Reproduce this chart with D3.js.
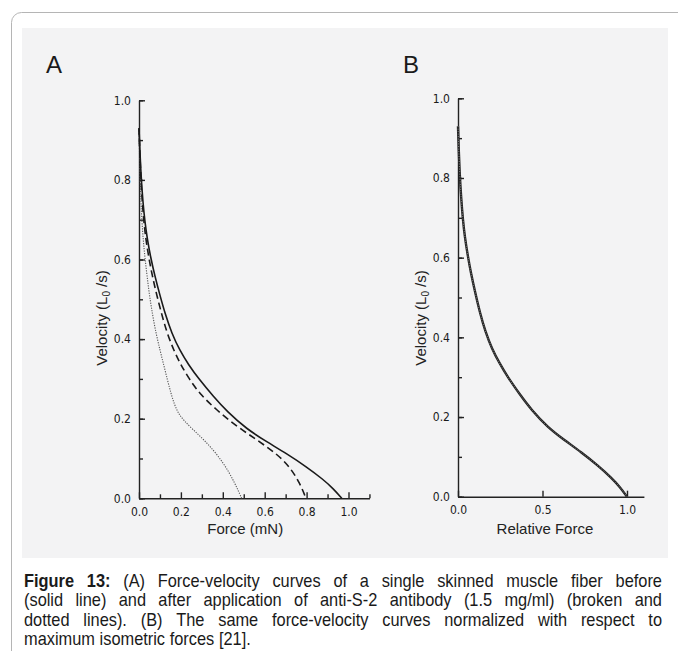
<!DOCTYPE html>
<html>
<head>
<meta charset="utf-8">
<script src="https://cdn.jsdelivr.net/npm/d3@7"></script>
<style>
  body { margin: 0; background: #fff; }
  svg { display: block; }
  .tick text { font-family: "DejaVu Sans Condensed", "Liberation Sans", sans-serif; font-size: 12px; fill: #1a1a1a; }
  .domain, .tick line { stroke: #222; stroke-width: 1.4; }
</style>
</head>
<body>
<div id="chart"></div>
<script>
// force (mN) / velocity (L0/s)
const solidA = [[0,0.93],[0.004,0.875],[0.010,0.81],[0.018,0.748],[0.028,0.695],[0.040,0.65],[0.055,0.607],[0.075,0.56],[0.100,0.51],[0.125,0.463],[0.156,0.415],[0.196,0.370],[0.235,0.337],[0.285,0.300],[0.355,0.256],[0.42,0.218],[0.514,0.174],[0.61,0.142],[0.705,0.112],[0.80,0.079],[0.88,0.047],[0.928,0.024],[0.968,0]];
const dashedA = [[0,0.93],[0.0035,0.875],[0.0085,0.81],[0.015,0.748],[0.023,0.695],[0.033,0.65],[0.046,0.607],[0.063,0.56],[0.085,0.51],[0.108,0.463],[0.134,0.415],[0.166,0.372],[0.198,0.337],[0.237,0.302],[0.29,0.262],[0.37,0.222],[0.466,0.181],[0.562,0.147],[0.657,0.112],[0.72,0.079],[0.768,0.038],[0.797,0]];
const dottedA = [[0,0.93],[0.002,0.875],[0.005,0.81],[0.009,0.748],[0.014,0.695],[0.02,0.65],[0.028,0.607],[0.038,0.56],[0.05,0.51],[0.064,0.463],[0.081,0.415],[0.1,0.373],[0.118,0.335],[0.136,0.297],[0.152,0.265],[0.168,0.237],[0.188,0.213],[0.215,0.195],[0.259,0.172],[0.31,0.147],[0.36,0.118],[0.40,0.09],[0.43,0.065],[0.455,0.04],[0.473,0.02],[0.49,0]];
// relative force / velocity, panel B (the three curves overlap)
const curveB = [[0,0.93],[0.004,0.875],[0.010,0.81],[0.019,0.748],[0.029,0.695],[0.041,0.65],[0.057,0.607],[0.077,0.56],[0.103,0.51],[0.129,0.463],[0.161,0.415],[0.202,0.37],[0.243,0.337],[0.294,0.30],[0.367,0.256],[0.434,0.218],[0.531,0.174],[0.63,0.142],[0.728,0.112],[0.826,0.079],[0.909,0.047],[0.959,0.024],[1.0,0]];

const forceTicks = [0, 0.2, 0.4, 0.6, 0.8, 1.0];
const relForceTicks = [0, 0.5, 1.0];
const velocityTicks = [0, 0.2, 0.4, 0.6, 0.8, 1.0];
const minorTicks = [0, 0.1, 0.2, 0.3, 0.4, 0.5, 0.6, 0.7, 0.8, 0.9, 1.0];
const minorTicksX = [0.1, 0.3, 0.5, 0.7, 0.9, 1.1];

const captionLines = [
  [{t: "Figure 13:", b: true}, {t: "(A) Force-velocity curves of a single skinned muscle fiber before"}],
  [{t: "(solid line) and after application of anti-S-2 antibody (1.5 mg/ml) (broken and"}],
  [{t: "dotted lines). (B) The same force-velocity curves normalized with respect to"}],
  [{t: "maximum isometric forces [21]."}]
];

const width = 678, height = 651;
const fmt = d3.format(".1f");
const sans = "Liberation Sans, Arial, sans-serif";

const svg = d3.select("#chart").append("svg")
  .attr("width", width).attr("height", height);

// page frame and scanned figure background
svg.append("rect").attr("x", 11.5).attr("y", 12.5).attr("width", 720).attr("height", 720)
  .attr("rx", 10).attr("fill", "#fff").attr("stroke", "#b5b5b5");
svg.append("rect").attr("x", 22).attr("y", 28).attr("width", 646).attr("height", 530)
  .attr("fill", "#f3f3f4");

function panel(opts) {
  const x = d3.scaleLinear().domain([0, 1.1]).range([opts.x0, opts.x0 + opts.unitX * 1.1]);
  const y = d3.scaleLinear().domain([0, 1.0]).range([opts.y0, opts.y1]);
  const g = svg.append("g");

  // minor ticks
  g.append("g").attr("transform", `translate(0,${opts.y0})`)
    .call(d3.axisBottom(x).tickValues(opts.minorX).tickSize(-4).tickSizeOuter(0).tickFormat(""));
  g.append("g").attr("transform", `translate(${opts.x0},0)`)
    .call(d3.axisLeft(y).tickValues(minorTicks).tickSize(-4).tickSizeOuter(0).tickFormat(""));
  // major ticks with labels
  g.append("g").attr("transform", `translate(0,${opts.y0})`)
    .call(d3.axisBottom(x).tickValues(opts.xTicks).tickSize(-6).tickSizeOuter(0).tickPadding(9).tickFormat(fmt))
    .call(a => a.select(".domain").remove());
  g.append("g").attr("transform", `translate(${opts.x0},0)`)
    .call(d3.axisLeft(y).tickValues(velocityTicks).tickSize(-6).tickSizeOuter(0).tickPadding(8).tickFormat(fmt))
    .call(a => a.select(".domain").remove());

  // panel letter
  g.append("text").attr("x", opts.letterX).attr("y", 73)
    .attr("font-family", sans).attr("font-size", 24).attr("fill", "#1a1a1a")
    .text(opts.letter);

  // axis titles
  g.append("text").attr("x", (x(0) + x(1.1)) / 2 + opts.titleShift).attr("y", 534)
    .attr("text-anchor", "middle").attr("font-family", sans)
    .attr("font-size", 15).attr("fill", "#222").text(opts.xTitle);
  const yt = g.append("text")
    .attr("transform", `translate(${opts.x0 - 32},318) rotate(-90)`)
    .attr("text-anchor", "middle").attr("font-family", sans)
    .attr("font-size", 15).attr("fill", "#222");
  yt.append("tspan").text("Velocity (L");
  yt.append("tspan").attr("font-size", 10).attr("dy", 3).text("0");
  yt.append("tspan").attr("dy", -3).text(" /s)");

  return {x, y, g};
}

const A = panel({x0: 139, unitX: 209.5, y0: 498.3, y1: 100.3, xTicks: forceTicks, minorX: minorTicksX,
  letter: "A", letterX: 46, xTitle: "Force (mN)", titleShift: -9});
const B = panel({x0: 458, unitX: 169, y0: 496.7, y1: 98.3, xTicks: relForceTicks, minorX: [],
  letter: "B", letterX: 403, xTitle: "Relative Force", titleShift: -6});

const smooth = d3.curveBasis;
const lineA = d3.line().x(d => A.x(d[0])).y(d => A.y(d[1])).curve(smooth);
const lineB = d3.line().x(d => B.x(d[0])).y(d => B.y(d[1])).curve(smooth);

A.g.append("path").datum(dottedA).attr("d", lineA).attr("fill", "none")
  .attr("stroke", "#555").attr("stroke-width", 1.1).attr("stroke-dasharray", "1.2,1.3");
A.g.append("path").datum(dashedA).attr("d", lineA).attr("fill", "none")
  .attr("stroke", "#1a1a1a").attr("stroke-width", 1.6).attr("stroke-dasharray", "7,4");
A.g.append("path").datum(solidA).attr("d", lineA).attr("fill", "none")
  .attr("stroke", "#1a1a1a").attr("stroke-width", 1.6);

B.g.append("path").datum(curveB).attr("d", lineB).attr("fill", "none")
  .attr("stroke", "#222").attr("stroke-width", 2.4);
B.g.append("path").datum(curveB).attr("d", lineB).attr("fill", "none")
  .attr("stroke", "#999").attr("stroke-width", 0.8).attr("stroke-dasharray", "1,1.5");

// caption, justified between left and right margins, narrow face
const capLeft = 24, capRight = 662, capTop = 587, capStep = 19.3, squeeze = 0.91;
const cap = svg.append("g").attr("font-family", sans)
  .attr("font-size", 18).attr("fill", "#1a1a1a");
captionLines.forEach((parts, i) => {
  const y = capTop + i * capStep;
  const words = [];
  parts.forEach(p => p.t.split(" ").forEach(w => words.push({t: w, b: !!p.b})));
  const nodes = words.map(w => cap.append("text")
    .attr("font-weight", w.b ? "bold" : "normal").text(w.t));
  const widths = nodes.map(n => n.node().getComputedTextLength() * squeeze);
  const total = d3.sum(widths);
  const last = i === captionLines.length - 1;
  const gap = last ? 4.6 : (capRight - capLeft - total) / (nodes.length - 1);
  let x = capLeft;
  nodes.forEach((n, k) => {
    n.attr("transform", `translate(${x},${y}) scale(${squeeze},1)`);
    x += widths[k] + gap;
  });
});
</script>
</body>
</html>
